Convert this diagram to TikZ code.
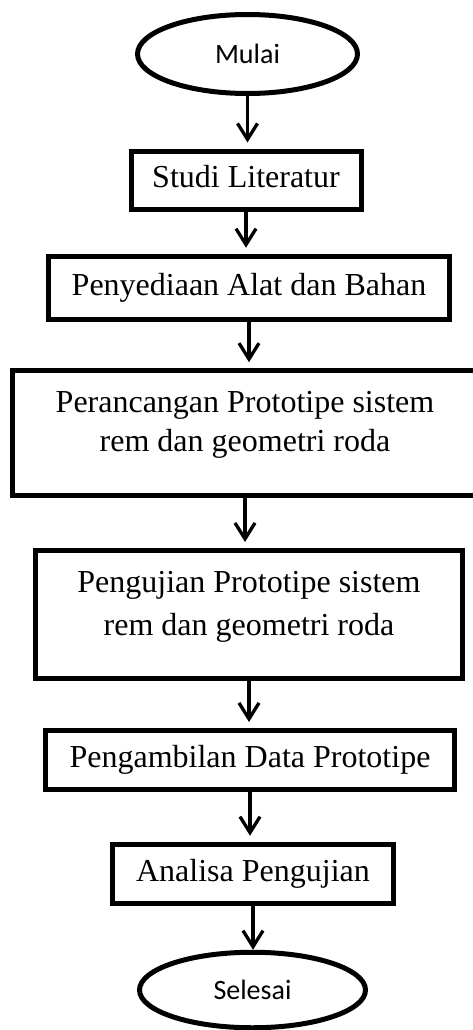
\documentclass[tikz,border=0pt]{standalone}
\usepackage{fontspec}
\setmainfont{Liberation Serif}
\newfontfamily\ovalfont{Carlito}
\usetikzlibrary{shapes.geometric,arrows.meta}

\begin{document}
\begin{tikzpicture}[x=1pt,y=-1pt,
  oval/.style={ellipse,draw,line width=5pt,inner sep=0pt,
    font=\ovalfont\fontsize{28}{34}\selectfont},
  frame/.style={rectangle,draw,line width=5pt,inner sep=0pt,
    font=\fontsize{32}{39}\selectfont},
  box/.style={frame,text height=22pt,text depth=7pt},
  tallbox/.style={frame,text depth=28.5pt},
  arr/.style={line width=3.3pt,-{Straight Barb[length=16pt,width=20pt]},
    shorten >=6pt}]
  \useasboundingbox (0,0) rectangle (472,1030);
  \node[oval,minimum width=220pt,minimum height=79pt] (mulai) at (247.5,54) {Mulai};
  \node[box,minimum width=230pt,minimum height=58pt] (studi) at (246,180) {Studi Literatur};
  \node[box,minimum width=401pt,minimum height=63.5pt] (sedia) at (249,288) {Penyediaan Alat dan Bahan};
  \node[tallbox,minimum width=465pt,minimum height=124.5pt] (rancang) at (245,433)
    {\begin{tabular}[b]{@{}c@{}}Perancangan Prototipe sistem\\rem dan geometri roda\end{tabular}};
  \node[tallbox,minimum width=427pt,minimum height=128pt] (uji) at (249,614.5)
    {\begin{tabular}[b]{@{}c@{}}Pengujian Prototipe sistem\\[4pt]rem dan geometri roda\end{tabular}};
  \node[box,minimum width=408.5pt,minimum height=59pt] (ambil) at (250,760) {Pengambilan Data Prototipe};
  \node[box,minimum width=281pt,minimum height=59.5pt] (analisa) at (253,874) {Analisa Pengujian};
  \node[oval,minimum width=226pt,minimum height=75.5pt] (selesai) at (252.5,990) {Selesai};

  \draw[arr] (mulai.south) -- (mulai.south |- studi.north);
  \draw[arr] (studi.south) -- (studi.south |- sedia.north);
  \draw[arr] (sedia.south) -- (sedia.south |- rancang.north);
  \draw[arr] (rancang.south) -- (rancang.south |- uji.north);
  \draw[arr] (uji.south) -- (uji.south |- ambil.north);
  \draw[arr] (ambil.south) -- (ambil.south |- analisa.north);
  \draw[arr,shorten >=0pt] (analisa.south) -- (analisa.south |- selesai.north);
\end{tikzpicture}
\end{document}
